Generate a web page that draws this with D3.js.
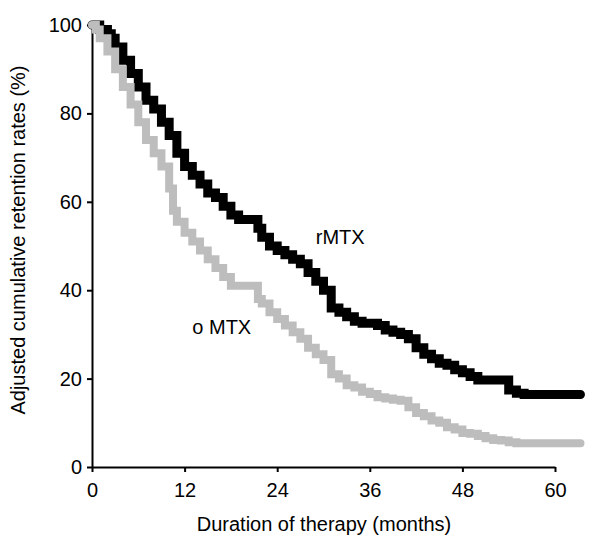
<!DOCTYPE html>
<html>
<head>
<meta charset="utf-8">
<script src="https://cdn.jsdelivr.net/npm/d3@7"></script>
<style>
  html, body { margin: 0; padding: 0; background: #fff; }
  svg { display: block; font-family: "Liberation Sans", Arial, sans-serif; }
</style>
</head>
<body>
<svg id="chart" width="600" height="554"></svg>
<script>
// ---- Data (months, adjusted cumulative retention %) ----
const rmtxMonths = [0, 1, 2, 2.5, 3, 4, 5, 6, 7, 8, 9, 10, 11, 12, 13, 14, 15, 16, 17, 18, 19, 21.5, 22, 23, 24, 25, 26, 27, 28, 29, 30, 31, 32, 33, 34, 35, 37, 38, 39, 40, 41, 42, 43, 44, 45, 46, 47, 48, 49, 50, 54, 55, 56, 63.3];
const rmtxValues = [100, 99, 98, 97, 95, 92, 89, 86, 83, 81, 78, 75, 71, 68, 66, 64, 62, 61, 59, 57, 56, 54, 52, 50, 49, 48, 47, 46, 44, 42, 40, 36, 35, 34, 33, 32.5, 32, 31, 30.5, 30, 29, 27, 25.5, 24.5, 23.5, 23, 22, 21.3, 20.5, 19.7, 17.4, 16.7, 16.4, 16.4];

const omtxMonths = [0, 0.5, 1, 2, 3, 4, 5, 6, 7, 8, 9, 10, 10.5, 11, 12, 13, 14, 15, 16, 17, 18, 21.5, 22, 23, 24, 25, 26, 27, 28, 29, 30, 31, 32, 33, 34, 35, 36, 37, 38, 39, 40, 41, 42, 43, 44, 45, 46, 47, 48, 49, 50, 51, 52, 53, 54, 55, 63.3];
const omtxValues = [100, 99, 97, 94, 90, 86, 82, 78, 74, 71, 68, 63, 58, 55.5, 53, 51, 49, 47, 45, 43, 41, 38, 37, 35, 33.5, 32, 30.5, 29, 27, 25.5, 24.2, 21, 20, 18.5, 18, 17, 16.5, 15.8, 15.5, 15.2, 15, 13.5, 12.2, 11.5, 10.5, 10, 9, 8.5, 7.7, 7.5, 7, 6.5, 6.1, 6, 5.6, 5.4, 5.4];

const xTicks = [0, 12, 24, 36, 48, 60];
const yTicks = [0, 20, 40, 60, 80, 100];
const seriesLabels = ["rMTX", "o MTX"];
const xTitle = "Duration of therapy (months)";
const yTitle = "Adjusted cumulative retention rates (%)";

// ---- Chart ----
const svg = d3.select("#chart");
const x = d3.scaleLinear().domain([0, 60]).range([92, 555]);
const y = d3.scaleLinear().domain([0, 100]).range([467, 25]);

const fontSize = 20;

const line = d3.line().x(d => x(d[0])).y(d => y(d[1])).curve(d3.curveStepAfter);

const rmtx = rmtxMonths.map((m, i) => [m, rmtxValues[i]]);
const omtx = omtxMonths.map((m, i) => [m, omtxValues[i]]);

// axes
const yAxis = svg.append("g")
  .attr("transform", `translate(${x(0)},0)`)
  .call(d3.axisLeft(y).tickValues(yTicks).tickSize(5).tickSizeOuter(0).tickPadding(5));
const xAxis = svg.append("g")
  .attr("transform", `translate(0,${y(0)})`)
  .call(d3.axisBottom(x).tickValues(xTicks).tickSize(5).tickSizeOuter(0).tickPadding(11));

[yAxis, xAxis].forEach(g => {
  g.selectAll("path.domain").attr("stroke", "#000").attr("stroke-width", 2);
  g.selectAll(".tick line").attr("stroke", "#000").attr("stroke-width", 2);
  g.selectAll(".tick text").attr("fill", "#000")
    .attr("font-size", fontSize)
    .attr("font-family", "'Liberation Sans', Arial, sans-serif");
});

// curves
svg.append("path").datum(rmtx)
  .attr("d", line)
  .attr("fill", "none")
  .attr("stroke", "#000")
  .attr("stroke-width", 9)
  .attr("stroke-linejoin", "miter")
  .attr("stroke-linecap", "round");

svg.append("path").datum(omtx)
  .attr("d", line)
  .attr("fill", "none")
  .attr("stroke", "#bdbdbd")
  .attr("stroke-width", 8)
  .attr("stroke-linejoin", "miter")
  .attr("stroke-linecap", "round");

// series labels
svg.append("text").text(seriesLabels[0])
  .attr("x", x(29)).attr("y", y(50.5))
  .attr("font-size", fontSize).attr("fill", "#000");
svg.append("text").text(seriesLabels[1])
  .attr("x", x(13)).attr("y", y(30.2))
  .attr("font-size", fontSize).attr("fill", "#000");

// axis titles
svg.append("text").text(xTitle)
  .attr("x", 324).attr("y", 531)
  .attr("text-anchor", "middle")
  .attr("font-size", fontSize).attr("fill", "#000");

svg.append("text").text(yTitle)
  .attr("transform", `translate(25,240) rotate(-90)`)
  .attr("text-anchor", "middle")
  .attr("font-size", fontSize).attr("fill", "#000");
</script>
</body>
</html>
